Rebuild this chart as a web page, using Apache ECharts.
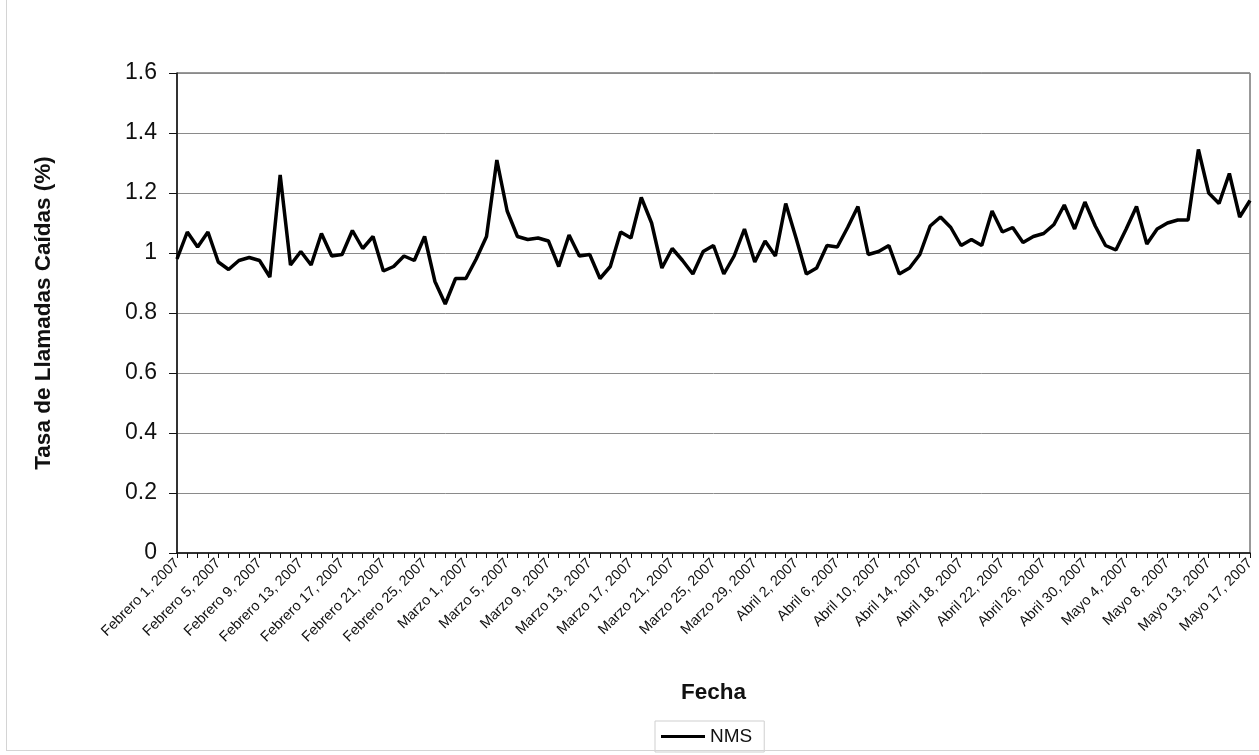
<!DOCTYPE html>
<html>
<head>
<meta charset="utf-8">
<script src="https://cdn.jsdelivr.net/npm/echarts@6/dist/echarts.min.js"></script>
<style>
  html, body { margin: 0; padding: 0; background: #fff; }
  #chart { width: 1259px; height: 755px; }
  .frame { position: absolute; left: 6px; top: 0; width: 1253px; height: 750px;
           border-left: 1px solid #d4d4d4; border-bottom: 1px solid #d4d4d4; pointer-events: none; }
</style>
</head>
<body>
<div id="chart"></div>
<div class="frame"></div>
<script>
// meses y cantidad de días (Feb-Mayo 2007); el 12 de mayo no aparece en la serie
const monthNames = ['Febrero', 'Marzo', 'Abril', 'Mayo']
const monthDays = [28, 31, 30, 17]
const missingDays = ['Mayo 12']

const dates = []
monthNames.forEach((m, i) => {
  for (let d = 1; d <= monthDays[i]; d++) {
    if (missingDays.indexOf(m + ' ' + d) >= 0) continue
    dates.push(m + ' ' + d + ', 2007')
  }
})

// tasa de llamadas caídas NMS (%)
const nms = [
  0.98, 1.07, 1.02, 1.07, 0.97, 0.945, 0.975, 0.985, 0.975, 0.92,
  1.26, 0.96, 1.005, 0.96, 1.065, 0.99, 0.995, 1.075, 1.015, 1.055,
  0.94, 0.955, 0.99, 0.975, 1.055, 0.905, 0.83, 0.915, 0.915, 0.98,
  1.055, 1.31, 1.14, 1.055, 1.045, 1.05, 1.04, 0.955, 1.06, 0.99,
  0.995, 0.915, 0.955, 1.07, 1.05, 1.185, 1.1, 0.95, 1.015, 0.975,
  0.93, 1.005, 1.025, 0.93, 0.99, 1.08, 0.97, 1.04, 0.99, 1.165,
  1.05, 0.93, 0.95, 1.025, 1.02, 1.085, 1.155, 0.995, 1.005, 1.025,
  0.93, 0.95, 0.995, 1.09, 1.12, 1.085, 1.025, 1.045, 1.025, 1.14,
  1.07, 1.085, 1.035, 1.055, 1.065, 1.095, 1.16, 1.08, 1.17, 1.09,
  1.025, 1.01, 1.08, 1.155, 1.03, 1.08, 1.1, 1.11, 1.11, 1.345,
  1.2, 1.165, 1.265, 1.12, 1.175
]

const font = 'Liberation Sans, Arial, sans-serif'

var chart = echarts.init(document.getElementById('chart'))
chart.setOption({
  animation: false,
  textStyle: { fontFamily: font, color: '#111' },
  grid: {
    left: 177,
    right: 9,
    top: 73,
    bottom: 202,
    show: true,
    borderColor: '#333',
    borderWidth: 1,
  },
  legend: {
    data: ['NMS'],
    bottom: 3,
    left: 655,
    icon: 'rect',
    itemWidth: 44,
    itemHeight: 3,
    itemGap: 4,
    padding: [6, 12, 6, 6],
    borderColor: '#cfcfcf',
    borderWidth: 1,
    textStyle: { fontFamily: font, fontSize: 19, color: '#111' },
  },
  xAxis: {
    type: 'category',
    data: dates,
    boundaryGap: false,
    name: 'Fecha',
    nameLocation: 'middle',
    nameGap: 128,
    nameTextStyle: { fontFamily: font, fontSize: 22.5, fontWeight: 'bold', color: '#111' },
    axisLine: { lineStyle: { color: '#111', width: 1.5 } },
    axisTick: { show: true, interval: 0, length: 5, lineStyle: { color: '#111' } },
    axisLabel: {
      interval: 3,
      rotate: 45,
      fontSize: 14.5,
      color: '#111',
      margin: 8,
    },
    splitLine: { show: false },
  },
  yAxis: {
    type: 'value',
    min: 0,
    max: 1.6,
    interval: 0.2,
    name: 'Tasa de Llamadas Caídas (%)',
    nameLocation: 'middle',
    nameGap: 122,
    nameTextStyle: { fontFamily: font, fontSize: 22.5, fontWeight: 'bold', color: '#111' },
    axisLine: { show: true, lineStyle: { color: '#111', width: 1.5 } },
    axisTick: { show: true, length: 8, lineStyle: { color: '#111' } },
    axisLabel: {
      fontSize: 23,
      color: '#111',
      margin: 20,
      formatter: v => String(Math.round(v * 10) / 10),
    },
    splitLine: { show: true, lineStyle: { color: '#8a8a8a', width: 1 } },
  },
  series: [
    {
      name: 'NMS',
      type: 'line',
      data: nms,
      showSymbol: false,
      symbol: 'none',
      lineStyle: { color: '#000', width: 3.5 },
      itemStyle: { color: '#000' },
    },
  ],
})
</script>
</body>
</html>
